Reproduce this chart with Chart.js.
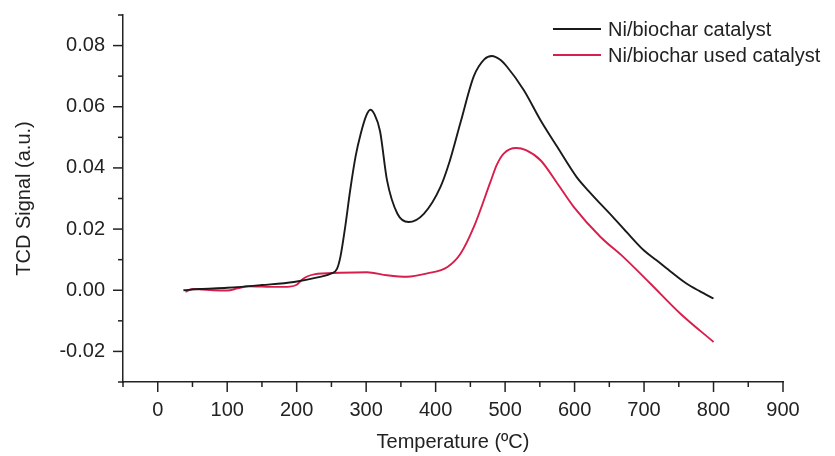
<!DOCTYPE html>
<html lang="en">
<head>
    <meta charset="UTF-8">
    <title>TPR - Ni/biochar</title>
    <script src="https://cdn.jsdelivr.net/npm/chart.js"></script>
    <style>
        html, body { margin: 0; padding: 0; background: #fff; }
        #wrap { width: 835px; height: 456px; }
    </style>
</head>
<body>
    <div id="wrap"><canvas id="tprChart"></canvas></div>

    <script>
        // Ni/biochar catalyst
        const freshTemp = [37, 60, 100, 150, 196, 230, 250, 258, 263, 270, 277, 285, 292, 300, 306, 312, 320, 330, 345, 361, 383, 407, 420, 436, 455, 470, 481, 492, 503, 527, 551, 575, 603, 620, 637, 655, 675, 700, 718, 740, 761, 780, 800];
        const freshSignal = [0.0, 0.0004, 0.0008, 0.0017, 0.0027, 0.0042, 0.0055, 0.007, 0.011, 0.021, 0.0327, 0.044, 0.051, 0.057, 0.059, 0.0575, 0.052, 0.036, 0.025, 0.0223, 0.025, 0.0338, 0.042, 0.055, 0.070, 0.0755, 0.0766, 0.0755, 0.073, 0.0654, 0.0556, 0.0469, 0.037, 0.0325, 0.0283, 0.024, 0.019, 0.013, 0.0098, 0.0058, 0.0022, -0.0003, -0.0027];

        // Ni/biochar used catalyst
        const usedTemp = [40, 50, 65, 80, 100, 115, 130, 150, 170, 190, 200, 208, 215, 225, 263, 301, 330, 359, 388, 417, 436, 455, 479, 488, 498, 516, 530, 551, 575, 599, 637, 670, 709, 752, 800];
        const usedSignal = [-0.0005, 0.0004, 0.0002, 0.0, -0.0001, 0.0006, 0.0013, 0.0012, 0.0011, 0.0012, 0.0018, 0.0035, 0.0045, 0.0052, 0.0057, 0.0059, 0.0049, 0.0044, 0.0055, 0.0076, 0.012, 0.0207, 0.0355, 0.041, 0.0447, 0.0465, 0.0458, 0.0425, 0.035, 0.0272, 0.0175, 0.0109, 0.0022, -0.0076, -0.0169];

        const seriesLabels = ['Ni/biochar catalyst', 'Ni/biochar used catalyst'];
        const seriesColors = ['#1a1a1a', '#d81e4c'];

        const FONT = '"Liberation Sans", Arial, sans-serif';
        const TEXT = '#222';

        function toPoints(xs, ys) {
            return xs.map((x, i) => ({ x: x, y: ys[i] }));
        }

        // major ticks long, minor ticks short, drawn outside the axes
        const tickMarks = {
            id: 'tickMarks',
            afterDraw(chart) {
                const ctx = chart.ctx;
                ctx.save();
                ctx.strokeStyle = '#222';
                ctx.lineWidth = 1.5;
                const xs = chart.scales.x, ys = chart.scales.y;
                xs.ticks.forEach(t => {
                    const px = xs.getPixelForValue(t.value);
                    const len = t.label !== '' ? 10 : 5;
                    ctx.beginPath();
                    ctx.moveTo(px, xs.top);
                    ctx.lineTo(px, xs.top + len);
                    ctx.stroke();
                });
                ys.ticks.forEach(t => {
                    const py = ys.getPixelForValue(t.value);
                    const len = t.label !== '' ? 10 : 5;
                    ctx.beginPath();
                    ctx.moveTo(ys.right, py);
                    ctx.lineTo(ys.right - len, py);
                    ctx.stroke();
                });
                ctx.restore();
            }
        };

        // legend in the upper right corner
        const cornerLegend = {
            id: 'cornerLegend',
            afterDraw(chart) {
                const ctx = chart.ctx;
                ctx.save();
                ctx.font = '20px ' + FONT;
                ctx.textBaseline = 'middle';
                chart.data.datasets.forEach((ds, i) => {
                    const y = 29 + i * 26;
                    ctx.strokeStyle = ds.borderColor;
                    ctx.lineWidth = 1.8;
                    ctx.beginPath();
                    ctx.moveTo(553, y);
                    ctx.lineTo(601, y);
                    ctx.stroke();
                    ctx.fillStyle = TEXT;
                    ctx.fillText(ds.label, 608, y + 1);
                });
                ctx.restore();
            }
        };

        new Chart(document.getElementById('tprChart'), {
            type: 'line',
            data: {
                datasets: [{
                    label: seriesLabels[0],
                    data: toPoints(freshTemp, freshSignal),
                    borderColor: seriesColors[0],
                    borderWidth: 1.9,
                    pointRadius: 0,
                    cubicInterpolationMode: 'monotone',
                    fill: false
                }, {
                    label: seriesLabels[1],
                    data: toPoints(usedTemp, usedSignal),
                    borderColor: seriesColors[1],
                    borderWidth: 1.9,
                    pointRadius: 0,
                    cubicInterpolationMode: 'monotone',
                    fill: false
                }]
            },
            options: {
                responsive: true,
                maintainAspectRatio: false,
                animation: false,
                layout: { padding: { top: 15, right: 52, left: 0, bottom: 0 } },
                plugins: {
                    legend: { display: false },
                    tooltip: { enabled: false }
                },
                scales: {
                    x: {
                        type: 'linear',
                        min: -50,
                        max: 900,
                        afterFit(scale) { scale.height = 74; },
                        border: { display: true, color: '#222', width: 1.5 },
                        grid: { drawOnChartArea: false, tickLength: 10, tickColor: 'rgba(0,0,0,0)' },
                        ticks: {
                            stepSize: 50,
                            autoSkip: false,
                            maxRotation: 0,
                            padding: 6,
                            color: TEXT,
                            font: { family: FONT, size: 20 },
                            callback: v => (v % 100 === 0 ? String(v) : '')
                        },
                        title: {
                            display: true,
                            text: 'Temperature (ºC)',
                            color: TEXT,
                            font: { family: FONT, size: 20 },
                            padding: { top: 0, bottom: 2 }
                        }
                    },
                    y: {
                        min: -0.03,
                        max: 0.09,
                        afterFit(scale) {
                            scale.width = 123;
                            scale.paddingTop = 0;
                            scale.paddingBottom = 0;
                        },
                        border: { display: true, color: '#222', width: 1.5 },
                        grid: { drawOnChartArea: false, tickLength: 10, tickColor: 'rgba(0,0,0,0)' },
                        ticks: {
                            stepSize: 0.01,
                            autoSkip: false,
                            padding: 8,
                            color: TEXT,
                            font: { family: FONT, size: 20 },
                            callback: v => (Math.round(v * 100) % 2 === 0 ? v.toFixed(2) : '')
                        },
                        title: {
                            display: true,
                            text: 'TCD Signal (a.u.)',
                            color: TEXT,
                            font: { family: FONT, size: 20 },
                            padding: { top: 12, bottom: 0 }
                        }
                    }
                }
            },
            plugins: [tickMarks, cornerLegend]
        });
    </script>
</body>
</html>
